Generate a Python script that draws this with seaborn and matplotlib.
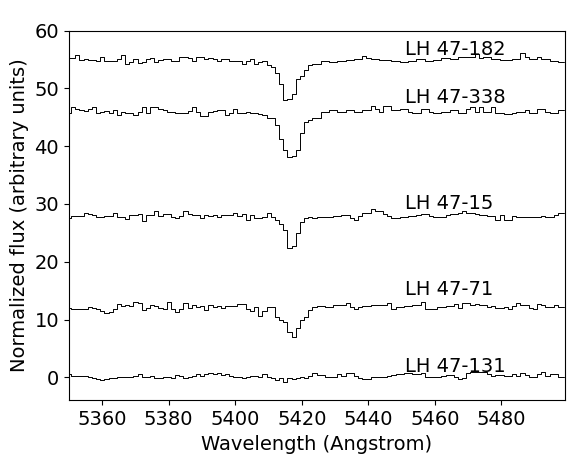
import matplotlib
matplotlib.use("Agg")
import matplotlib.pyplot as plt
import numpy as np
import pandas as pd
import seaborn as sns

# wavelength sampling of the spectra (1.25 A bins)
wave_start = 5350.06
wave_step = 1.25
n_bins = 120
wavelength = wave_start + wave_step * np.arange(n_bins)

# normalized flux of each star, already offset for display
flux_182 = [
    55.2, 55.2, 55.7, 54.9, 55.0, 54.9, 54.9, 54.8, 55.4, 54.7,
    54.7, 54.8, 55.0, 55.7, 54.3, 54.5, 55.1, 54.4, 54.5, 55.0,
    55.2, 54.6, 54.9, 55.1, 55.0, 54.7, 54.7, 55.4, 55.4, 55.2,
    54.8, 55.4, 55.4, 55.1, 55.2, 55.0, 54.7, 55.0, 55.0, 54.7,
    54.8, 54.8, 54.3, 54.7, 55.1, 54.3, 54.6, 54.8, 54.0, 53.7,
    52.6, 50.7, 48.0, 48.1, 49.1, 51.7, 52.1, 53.2, 54.1, 54.3,
    54.3, 54.8, 54.8, 54.55, 54.55, 54.8, 54.8, 54.9, 54.9, 55.0,
    55.0, 55.6, 55.2, 55.0, 55.0, 54.9, 54.9, 54.9, 54.7, 54.7,
    54.6, 54.6, 54.8, 54.8, 55.0, 55.0, 54.8, 54.8, 54.9, 54.9,
    55.2, 55.2, 55.0, 55.0, 55.4, 55.4, 55.5, 55.5, 55.9, 55.2,
    55.5, 55.5, 55.0, 55.0, 54.9, 54.9, 54.9, 55.1, 55.1, 56.05,
    55.5, 55.0, 55.0, 55.5, 55.0, 55.0, 54.8, 54.8, 54.55, 54.55,
]
flux_338 = [
    45.8, 46.7, 46.4, 46.2, 46.1, 46.4, 46.8, 45.8, 45.95, 46.0,
    45.7, 46.2, 45.4, 45.9, 45.8, 45.7, 45.4, 45.95, 46.7, 45.8,
    46.8, 46.8, 46.4, 46.2, 45.95, 45.9, 45.8, 45.7, 45.8, 46.0,
    46.7, 45.95, 45.3, 45.3, 45.95, 46.1, 46.2, 46.2, 45.4, 45.7,
    46.4, 45.7, 45.8, 45.95, 45.7, 45.8, 45.6, 45.4, 44.8, 44.8,
    43.7, 41.3, 39.3, 38.2, 38.3, 39.3, 42.3, 44.1, 44.6, 44.8,
    44.8, 45.95, 45.95, 46.2, 46.2, 45.95, 45.95, 46.2, 46.2, 45.95,
    45.95, 46.2, 46.2, 46.9, 46.4, 45.95, 46.9, 46.9, 46.2, 46.2,
    46.4, 46.4, 45.95, 45.8, 45.8, 46.4, 46.4, 45.95, 45.8, 45.8,
    45.95, 45.95, 46.2, 46.2, 45.8, 45.8, 46.4, 46.7, 45.95, 46.7,
    45.95, 45.95, 46.7, 45.8, 45.8, 45.6, 45.6, 45.8, 45.95, 45.95,
    46.2, 45.8, 45.8, 46.4, 46.4, 45.95, 45.7, 45.7, 46.2, 46.2,
]
flux_15 = [
    27.5, 27.96, 28.0, 28.0, 28.5, 28.2, 28.1, 27.8, 27.8, 28.0,
    28.0, 28.5, 27.8, 27.8, 27.4, 28.1, 28.1, 28.2, 27.0, 28.1,
    28.1, 28.7, 28.0, 28.25, 28.25, 27.8, 27.6, 28.0, 28.7, 28.2,
    28.1, 28.1, 27.5, 28.1, 28.0, 28.1, 27.8, 28.1, 28.1, 28.1,
    28.4, 28.0, 28.25, 27.3, 28.1, 27.5, 27.6, 27.8, 28.5, 27.7,
    27.3, 26.5, 25.5, 22.3, 22.7, 25.0, 26.9, 27.6, 27.8, 27.5,
    27.8, 27.8, 27.7, 27.7, 27.9, 27.9, 28.1, 28.1, 27.6, 27.3,
    27.9, 28.5, 28.5, 29.05, 28.8, 28.8, 28.25, 27.9, 27.5, 27.5,
    27.7, 27.7, 27.9, 27.9, 28.1, 28.25, 28.25, 27.9, 27.8, 27.8,
    27.7, 28.1, 28.25, 28.25, 28.5, 28.8, 28.5, 28.5, 28.25, 28.1,
    28.1, 27.9, 27.9, 27.3, 28.1, 27.2, 27.2, 27.9, 27.8, 27.8,
    27.7, 27.7, 27.8, 27.8, 27.9, 27.8, 27.8, 28.1, 28.5, 28.5,
]
flux_71 = [
    12.04, 11.9, 11.9, 11.8, 11.8, 12.1, 12.0, 11.8, 11.5, 11.06,
    11.35, 11.9, 12.67, 12.33, 12.44, 12.38, 12.96, 12.79, 11.64, 12.04,
    12.6, 12.33, 12.04, 11.75, 12.96, 11.75, 11.35, 11.75, 12.79, 11.92,
    12.6, 12.2, 12.38, 11.64, 12.5, 12.2, 12.33, 12.04, 12.38, 12.38,
    12.38, 12.67, 12.67, 11.75, 11.4, 12.2, 10.7, 11.46, 12.2, 12.2,
    10.5, 9.9, 9.5, 7.9, 6.9, 8.5, 9.9, 10.5, 11.64, 12.1,
    12.33, 12.33, 12.2, 12.2, 12.5, 12.6, 12.6, 12.8, 12.2, 11.75,
    12.2, 12.38, 12.38, 12.6, 12.6, 12.5, 12.5, 12.8, 11.75, 12.1,
    12.1, 12.33, 12.33, 12.5, 12.5, 13.0, 11.9, 11.9, 11.75, 12.1,
    12.1, 12.33, 12.33, 12.67, 12.04, 12.8, 12.8, 12.5, 12.67, 12.5,
    12.5, 12.2, 12.33, 11.92, 11.92, 12.2, 11.87, 12.33, 12.8, 12.5,
    12.5, 11.92, 11.75, 12.67, 12.44, 12.2, 12.2, 12.56, 12.2, 12.2,
]
flux_131 = [
    0.57, 0.28, 0.22, 0.22, 0.22, 0.0, -0.07, -0.3, -0.47, -0.3,
    -0.07, -0.18, 0.0, 0.11, 0.0, 0.0, 0.28, 0.57, 0.11, 0.11,
    0.22, -0.07, -0.07, 0.11, 0.0, -0.18, 0.4, 0.22, -0.07, 0.11,
    0.22, 0.51, 0.28, 0.51, 0.68, 0.51, 0.68, 0.4, 0.51, 0.22,
    0.11, 0.0, -0.07, 0.11, 0.28, 0.22, 0.11, 0.51, 0.11, -0.18,
    -0.47, -0.07, -0.88, -0.18, -0.3, -0.18, 0.11, -0.18, 0.28, 0.68,
    0.4, 0.4, 0.11, 0.11, 0.11, 0.57, 0.22, 0.68, 0.8, 0.28,
    -0.18, -0.24, -0.24, 0.0, 0.0, 0.11, 0.11, 0.28, 0.4, 0.57,
    0.57, 0.68, 0.68, 0.51, 0.51, 0.8, 0.11, 0.0, 0.0, 0.0,
    0.22, 0.4, 0.4, 0.0, -0.35, -0.07, 0.8, 0.97, 0.97, 0.86,
    0.97, 0.51, 0.28, 0.4, 0.4, 0.22, 0.22, 0.51, 0.22, 0.68,
    0.4, 0.11, 0.11, 0.51, 0.86, 0.22, 0.51, 0.51, 0.0, 0.0,
]

star_names = ["LH 47-182", "LH 47-338", "LH 47-15", "LH 47-71", "LH 47-131"]
star_flux = [flux_182, flux_338, flux_15, flux_71, flux_131]
label_x = 5451
label_y = [55.8, 47.4, 29.2, 14.2, 0.9]

sns.set_style("ticks")
plt.rcParams["font.family"] = ["DejaVu Sans"]
plt.rcParams["text.color"] = "black"
plt.rcParams["axes.labelcolor"] = "black"

fig = plt.figure(figsize=(5.78, 4.63), dpi=100)
ax = fig.add_axes([0.119, 0.135, 0.858, 0.799])

for name, flux, ly in zip(star_names, star_flux, label_y):
    df = pd.DataFrame({"wavelength": wavelength, "flux": flux})
    sns.lineplot(data=df, x="wavelength", y="flux", ax=ax, color="black",
                 linewidth=0.7, drawstyle="steps-mid", estimator=None)
    ax.text(label_x, ly, name, fontsize=14, color="black")

ax.set_xlim(5350, 5499)
ax.set_ylim(-4, 60)
ax.set_xticks([5360, 5380, 5400, 5420, 5440, 5460, 5480])
ax.set_yticks([0, 10, 20, 30, 40, 50, 60])
ax.tick_params(labelsize=14, direction="out", length=3.5, width=0.8,
               colors="black")
for sp in ax.spines.values():
    sp.set_color("black")
    sp.set_linewidth(0.8)

ax.set_xlabel("Wavelength (Angstrom)", fontsize=14, color="black")
ax.set_ylabel("Normalized flux (arbitrary units)", fontsize=14, color="black")

fig.savefig("out.png", dpi=100)
